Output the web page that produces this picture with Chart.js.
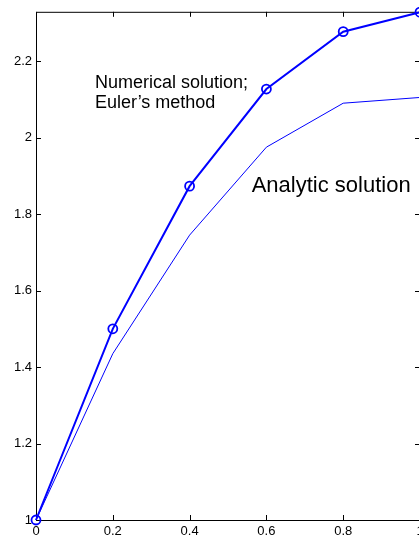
<!DOCTYPE html>
<html>
<head>
<meta charset="utf-8">
<script src="https://cdn.jsdelivr.net/npm/chart.js@4/dist/chart.umd.min.js"></script>
<style>
  html, body { margin: 0; padding: 0; background: #fff; overflow: hidden; }
  #wrap { position: absolute; left: 0; top: 0; width: 440px; height: 538px; }
</style>
</head>
<body>
<div id="wrap"><canvas id="c" width="440" height="538"></canvas></div>
<script>
// ---- data ----
const xValues = [0, 0.2, 0.4, 0.6, 0.8, 1.0];
const eulerValues = [1.0, 1.5, 1.873, 2.127, 2.277, 2.328];
const analyticValues = [1.0, 1.435, 1.745, 1.975, 2.09, 2.105];
const xTicks = [0, 0.2, 0.4, 0.6, 0.8, 1];
const yTicks = [1, 1.2, 1.4, 1.6, 1.8, 2, 2.2];
const labelNumerical = ["Numerical solution;", "Euler\u2019s method"];
const labelAnalytic = "Analytic solution";

const toPts = (xs, ys) => xs.map((x, i) => ({ x: x, y: ys[i] }));
const fmt = v => String(Number(v.toFixed(2)));

const boxPlugin = {
  id: 'box',
  beforeDatasetsDraw(chart) {
    const { ctx, chartArea: a, scales } = chart;
    ctx.save();
    ctx.strokeStyle = '#000';
    ctx.lineWidth = 1;
    ctx.beginPath();
    ctx.rect(a.left + 0.5, a.top + 0.5, a.right - a.left, a.bottom - a.top);
    ctx.stroke();
    const L = 5;
    ctx.beginPath();
    xTicks.forEach(v => {
      const px = Math.round(scales.x.getPixelForValue(v)) + 0.5;
      ctx.moveTo(px, a.bottom); ctx.lineTo(px, a.bottom - L);
      ctx.moveTo(px, a.top); ctx.lineTo(px, a.top + L);
    });
    yTicks.forEach(v => {
      const py = Math.round(scales.y.getPixelForValue(v)) + 0.5;
      ctx.moveTo(a.left, py); ctx.lineTo(a.left + L, py);
      ctx.moveTo(a.right, py); ctx.lineTo(a.right - L, py);
    });
    ctx.stroke();
    ctx.restore();
  },
  afterDatasetsDraw(chart) {
    const { ctx, scales } = chart;
    ctx.save();
    ctx.fillStyle = '#000';
    ctx.textAlign = 'left';
    ctx.textBaseline = 'alphabetic';
    ctx.font = '18px "Liberation Sans", Arial, sans-serif';
    const nx = scales.x.getPixelForValue(0.1536);
    const ny = scales.y.getPixelForValue(2.1287);
    ctx.fillText(labelNumerical[0], nx, ny);
    ctx.fillText(labelNumerical[1], nx, ny + 20);
    ctx.font = '22px "Liberation Sans", Arial, sans-serif';
    ctx.fillText(labelAnalytic, scales.x.getPixelForValue(0.5617), scales.y.getPixelForValue(1.857));
    ctx.restore();
  }
};

new Chart(document.getElementById('c'), {
  type: 'line',
  data: {
    datasets: [
      {
        label: 'Euler',
        data: toPts(xValues, eulerValues),
        borderColor: '#0000ff',
        borderWidth: 2,
        pointRadius: 4.5,
        pointBorderWidth: 1.8,
        pointBorderColor: '#0000ff',
        pointBackgroundColor: 'rgba(0,0,0,0)',
        tension: 0,
        clip: false
      },
      {
        label: 'Analytic',
        data: toPts(xValues, analyticValues),
        borderColor: '#0000ff',
        borderWidth: 1,
        pointRadius: 0,
        tension: 0,
        clip: false
      }
    ]
  },
  options: {
    responsive: false,
    animation: false,
    devicePixelRatio: 1,
    layout: { padding: { top: 11, right: 20, left: 0, bottom: 0 } },
    plugins: { legend: { display: false }, tooltip: { enabled: false } },
    scales: {
      x: {
        type: 'linear',
        min: 0, max: 1,
        afterFit: s => { s.height = 18; },
        afterBuildTicks: s => { s.ticks = xTicks.map(v => ({ value: v })); },
        grid: { display: false, drawTicks: false },
        border: { display: false },
        ticks: {
          padding: 4,
          color: '#000',
          font: { family: '"Liberation Sans", Arial, sans-serif', size: 13 },
          callback: v => fmt(v),
          maxRotation: 0, autoSkip: false
        }
      },
      y: {
        type: 'linear',
        min: 1, max: 2.329,
        afterFit: s => { s.width = 36; },
        afterBuildTicks: s => { s.ticks = yTicks.map(v => ({ value: v })); },
        grid: { display: false, drawTicks: false },
        border: { display: false },
        ticks: {
          padding: 4,
          color: '#000',
          font: { family: '"Liberation Sans", Arial, sans-serif', size: 13 },
          callback: v => fmt(v),
          autoSkip: false
        }
      }
    }
  },
  plugins: [boxPlugin]
});
</script>
</body>
</html>
